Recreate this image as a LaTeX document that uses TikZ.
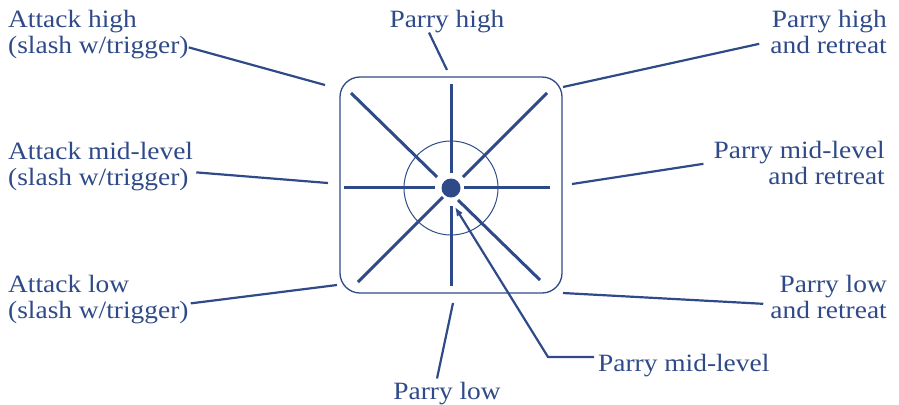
\documentclass[tikz,border=0pt]{standalone}
\usepackage{fontspec}
\setmainfont{Liberation Serif}[FakeStretch=1.1]
\usepackage{tikz}
\usetikzlibrary{arrows.meta,positioning,calc}
\definecolor{navy}{HTML}{2F4A88}
\tikzset{
  label/.style={inner sep=0pt,text=navy,font=\fontsize{25}{26}\selectfont},
  leftlabel/.style={label,anchor=north west,align=left},
  rightlabel/.style={label,anchor=north east,align=right},
  pad/.style={rectangle,rounded corners=20bp,draw=navy,line width=1.3bp,minimum width=222bp,minimum height=216bp},
  ring/.style={circle,draw=navy,line width=1bp,minimum size=94bp,inner sep=0pt},
  hubdot/.style={circle,fill=navy,minimum size=19bp,inner sep=0pt},
  spoke/.style={navy,line width=3bp},
  leader/.style={navy,line width=2.2bp},
  pointer/.style={-{Latex[length=9bp,width=7bp]},navy,line width=2.2bp}
}

\begin{document}
\begin{tikzpicture}[x=1bp,y=-1bp]
    \useasboundingbox (0,0) rectangle (899,404);
    % the stick pad
    \node[pad] (pad) at (451,185) {};
    \node[ring] (ring) at (451,188) {};
    \node[hubdot] (hub) at (451,188) {};
    \foreach \xa/\ya/\xb/\yb in {451/173/451/84, 451/206/451/286, 435/187/344/187, 464/187/550/187,
                                 437/177/351/93, 463/177/547/93, 443/197/358/282, 458/200/540/280}
      \draw[spoke] (\xa,\ya) -- (\xb,\yb);
    % labels
    \node[leftlabel] (ah) at (8,9.9) {Attack high\\(slash w/trigger)};
    \node[leftlabel] (am) at (8,141.9) {Attack mid-level\\(slash w/trigger)};
    \node[leftlabel] (al) at (8,274.9) {Attack low\\(slash w/trigger)};
    \node[rightlabel] (phr) at (887,9.9) {Parry high\\and retreat};
    \node[rightlabel] (pmr) at (885,140.9) {Parry mid-level\\and retreat};
    \node[rightlabel] (plr) at (887,274.9) {Parry low\\and retreat};
    \node[label,anchor=base] (ph) at (447,27) {Parry high};
    \node[label,anchor=base] (pl) at (447,399) {Parry low};
    \node[label,anchor=base west] (pm) at (598,371) {Parry mid-level};
    % leader ends at the pad
    \coordinate (ahend) at (325,85);
    \coordinate (amend) at (328,183);
    \coordinate (alend) at (337,285);
    \coordinate (phrend) at (563,87);
    \coordinate (pmrend) at (572,184);
    \coordinate (plrend) at (563,293);
    \coordinate (phend) at (447,70);
    \coordinate (plend) at (453,303);
    \coordinate (pmbend) at (548,357);
    \coordinate (pmtip) at (455,207);
    \draw[leader] ([shift={(0,13)}]ah.east) -- (ahend);
    \draw[leader] ([shift={(3,6)}]am.east) -- (amend);
    \draw[leader] ([shift={(2,4)}]al.east) -- (alend);
    \draw[leader] ([shift={(-11,12)}]phr.west) -- (phrend);
    \draw[leader] ([shift={(-10,1)}]pmr.west) -- (pmrend);
    \draw[leader] ([shift={(-7,7)}]plr.west) -- (plrend);
    \draw[leader] ([xshift=-18bp]ph.south) -- (phend);
    \draw[leader] ([shift={(-10,-3)}]pl.north) -- (plend);
    \draw[pointer] ([shift={(-4,-8)}]pm.west) -- (pmbend) -- (pmtip);
  \end{tikzpicture}
\end{document}
